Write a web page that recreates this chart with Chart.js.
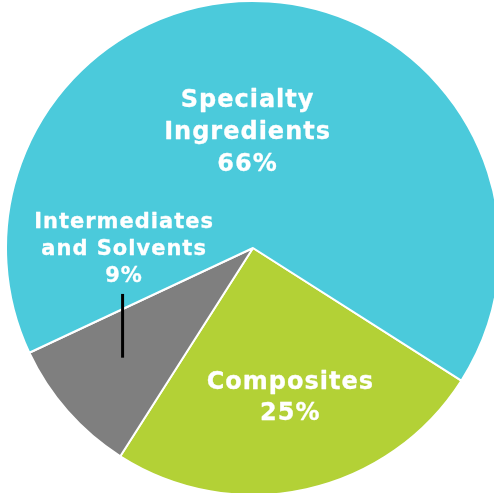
<!DOCTYPE html>
<html>
<head>
<meta charset="utf-8">
<script src="https://cdn.jsdelivr.net/npm/chart.js@4.4.1/dist/chart.umd.min.js"></script>
<style>
  html, body { margin: 0; padding: 0; background: #ffffff; overflow: hidden; }
  #wrap { position: absolute; left: 0; top: 0; width: 506px; height: 496px; }
</style>
</head>
<body>
<div id="wrap"><canvas id="c"></canvas></div>
<script>
const categories = ["Composites", "Intermediates and Solvents", "Specialty Ingredients"];
const shares = [25, 9, 66];
const labelLines = [["Composites", "25%"], ["Intermediates", "and Solvents", "9%"], ["Specialty", "Ingredients", "66%"]];
const sliceColors = ["#B3D136", "#7F7F7F", "#4BCADB"];

const labelPlugin = {
  id: "sliceLabels",
  afterDatasetsDraw(chart, args, opts) {
    const ctx = chart.ctx;
    const arc = chart.getDatasetMeta(0).data[0];
    const cx = arc.x, cy = arc.y, R = arc.outerRadius;
    ctx.save();
    ctx.textAlign = "center";
    ctx.textBaseline = "middle";
    ctx.fillStyle = "#ffffff";
    ctx.strokeStyle = "#ffffff";
    ctx.lineJoin = "round";
    if ("letterSpacing" in ctx) ctx.letterSpacing = "1px";
    opts.placements.forEach((p, i) => {
      ctx.font = "bold " + p.size + "px 'DejaVu Sans'";
      ctx.lineWidth = 0.3;
      labelLines[i].forEach((line, j) => {
        const x = cx + p.dx * R + 0.5, y = cy + p.dy * R + j * p.lh;
        ctx.fillText(line, x, y);
        ctx.strokeText(line, x, y);
      });
    });
    if ("letterSpacing" in ctx) ctx.letterSpacing = "0px";
    // leader line for the small slice
    const L = opts.leader;
    ctx.strokeStyle = "#000000";
    ctx.lineWidth = 3;
    ctx.beginPath();
    ctx.moveTo(cx + L.dx * R, cy + L.y0 * R);
    ctx.lineTo(cx + L.dx * R, cy + L.y1 * R);
    ctx.stroke();
    ctx.restore();
  }
};

new Chart(document.getElementById("c"), {
  type: "pie",
  data: {
    labels: categories,
    datasets: [{
      data: shares,
      backgroundColor: sliceColors,
      borderColor: "#ffffff",
      borderWidth: 2
    }]
  },
  options: {
    responsive: true,
    maintainAspectRatio: false,
    animation: false,
    rotation: 122.5,
    layout: { padding: 0 },
    plugins: {
      legend: { display: false },
      tooltip: { enabled: false },
      sliceLabels: {
        placements: [
          { dx: 0.149, dy: 0.544, lh: 31, size: 24 },
          { dx: -0.524, dy: -0.105, lh: 27, size: 21 },
          { dx: -0.024, dy: -0.597, lh: 32, size: 24 }
        ],
        leader: { dx: -0.528, y0: 0.186, y1: 0.444 }
      }
    }
  },
  plugins: [labelPlugin]
});
</script>
</body>
</html>
